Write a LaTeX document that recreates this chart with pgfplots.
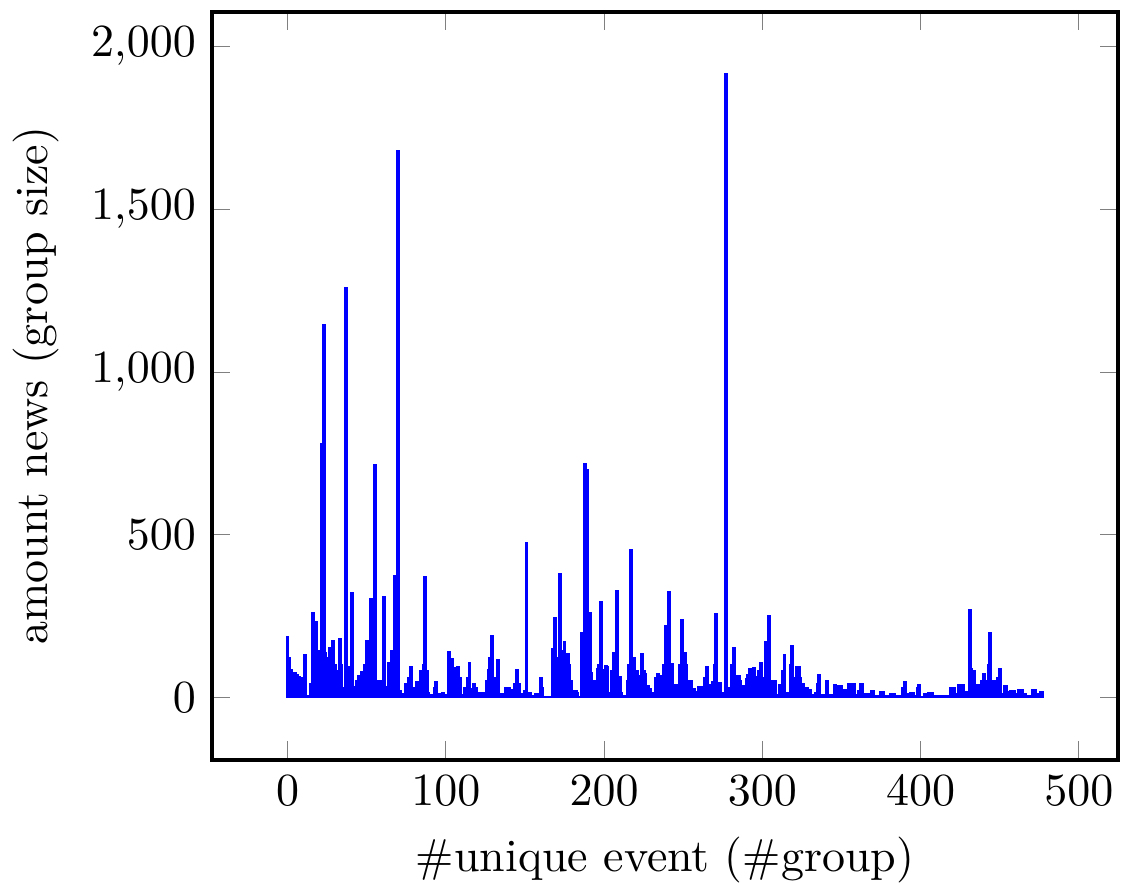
\documentclass[border=0pt]{standalone}
\usepackage{pgfplots}
\usepackage{pgfplotstable}
\pgfplotsset{compat=1.18}
\pgfplotstableread[row sep=\\]{
y\\185\\120\\85\\32\\40\\75\\70\\64\\55\\40\\
60\\130\\6\\5\\6\\40\\261\\120\\232\\100\\
142\\142\\780\\1146\\137\\100\\120\\152\\95\\174\\
100\\80\\60\\181\\100\\28\\20\\1259\\93\\93\\
50\\322\\32\\30\\50\\67\\60\\78\\78\\100\\
174\\101\\60\\302\\100\\716\\34\\34\\52\\40\\
52\\309\\32\\32\\105\\105\\144\\100\\373\\200\\
1680\\21\\11\\11\\11\\42\\30\\60\\95\\30\\
30\\30\\47\\47\\81\\60\\100\\370\\81\\15\\
9\\9\\9\\30\\47\\11\\11\\11\\13\\7\\
7\\7\\141\\80\\117\\90\\42\\60\\93\\60\\
9\\9\\29\\29\\60\\105\\26\\26\\40\\28\\
14\\14\\14\\13\\13\\13\\50\\85\\120\\189\\
5\\5\\60\\115\\3\\11\\11\\11\\29\\29\\
29\\21\\23\\23\\40\\83\\40\\11\\11\\11\\
20\\476\\13\\13\\6\\6\\6\\11\\11\\6\\
60\\30\\3\\3\\3\\3\\3\\3\\150\\244\\
101\\120\\378\\142\\100\\171\\80\\134\\100\\50\\
21\\21\\21\\15\\3\\3\\197\\100\\718\\698\\
150\\261\\75\\52\\52\\52\\88\\100\\295\\83\\
60\\98\\93\\13\\13\\80\\136\\60\\327\\64\\
64\\15\\5\\5\\5\\52\\100\\452\\80\\121\\
81\\81\\67\\60\\134\\80\\72\\34\\34\\27\\
13\\13\\13\\60\\72\\50\\67\\67\\100\\220\\
150\\325\\103\\103\\37\\37\\37\\37\\100\\238\\
80\\136\\100\\50\\50\\50\\27\\27\\16\\16\\
32\\32\\16\\16\\60\\95\\13\\39\\39\\47\\
100\\256\\44\\44\\14\\14\\14\\1915\\30\\30\\
21\\100\\151\\21\\67\\67\\50\\34\\34\\34\\
57\\70\\88\\62\\80\\91\\62\\62\\80\\105\\
60\\16\\172\\172\\251\\30\\30\\50\\50\\9\\
9\\39\\39\\80\\131\\13\\13\\13\\100\\157\\
39\\60\\95\\95\\60\\42\\42\\30\\30\\23\\
23\\9\\9\\9\\13\\40\\69\\9\\9\\9\\
9\\52\\9\\9\\9\\9\\39\\35\\35\\35\\
35\\21\\23\\23\\23\\40\\40\\42\\42\\9\\
9\\20\\40\\40\\11\\11\\11\\11\\11\\21\\
21\\6\\6\\6\\6\\18\\18\\6\\6\\6\\
6\\11\\11\\11\\6\\6\\6\\6\\6\\30\\
49\\11\\11\\11\\13\\13\\4\\4\\30\\39\\
3\\3\\3\\11\\11\\13\\13\\13\\5\\5\\
5\\5\\5\\5\\5\\6\\6\\4\\4\\29\\
29\\29\\11\\11\\38\\38\\38\\38\\16\\16\\
16\\268\\87\\81\\81\\37\\37\\16\\16\\50\\
72\\50\\39\\100\\198\\50\\50\\50\\34\\60\\
88\\11\\11\\34\\34\\16\\16\\19\\19\\19\\
11\\11\\23\\23\\23\\11\\11\\5\\5\\5\\
5\\23\\23\\11\\11\\11\\16\\16\\
}\newsdata
\begin{document}
\begin{tikzpicture}
\begin{axis}[
  scale only axis,
  width=197pt, height=162.6pt,
  xmin=-47.7, xmax=524.7,
  ymin=-191.5, ymax=2106.5,
  xtick={0,100,...,500},
  ytick={0,500,...,2000},
  xlabel={\#unique event (\#group)},
  ylabel={amount news (group size)},
  axis line style={thick},
  tick style={gray},
  major tick length=4pt,
]
\addplot[ybar, bar width=0.45pt, fill=blue, draw=blue] table[x expr=\coordindex, y=y] {\newsdata};
\end{axis}
\pgfresetboundingbox
\path[use as bounding box] ([shift={(-46.1pt,-26.7pt)}]current axis.south west) rectangle ([shift={(0.65pt,2.6pt)}]current axis.north east);
\end{tikzpicture}
\end{document}
